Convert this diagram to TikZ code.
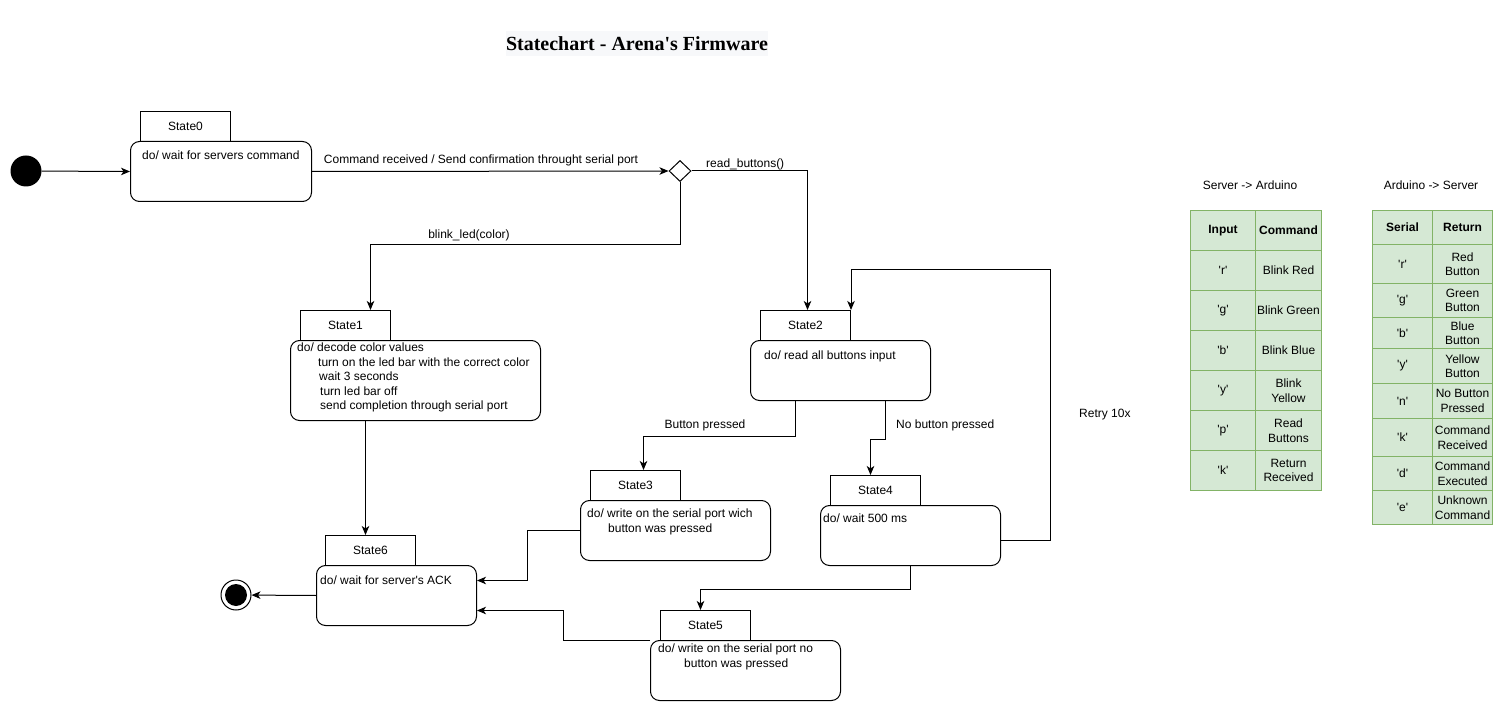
\documentclass[tikz,border=0pt]{standalone}
\usepackage{fontspec}
\newfontfamily\dio{Liberation Sans}
\newfontfamily\ttl{Liberation Serif}
\usetikzlibrary{shapes.geometric,arrows.meta}
\definecolor{cellfill}{HTML}{D5E8D4}
\definecolor{celldraw}{HTML}{82B366}
\definecolor{titlebg}{HTML}{F7F8FA}
\tikzset{
  txt/.style={font=\dio\fontsize{12}{14.5}\selectfont, inner sep=0pt, text=black},
  blk/.style={txt, align=left, anchor=north west},
  tabbox/.style={draw, line width=1pt, minimum width=90pt, minimum height=30pt, anchor=north west, txt},
  bodybox/.style={draw, line width=1pt, rounded corners=9pt, anchor=north west, inner sep=0pt},
  arr/.style={draw, line width=1pt, -{Stealth[length=9pt,width=7.5pt,inset=2.5pt]}},
  cell/.style={draw=celldraw, fill=cellfill, line width=1pt, anchor=north west, txt, align=center, inner sep=0pt},
}
\begin{document}
\begin{tikzpicture}[x=1pt,y=-1pt]
\useasboundingbox (0,0) rectangle (1502,711);

% title
\node[fill=titlebg, minimum width=261pt, minimum height=25pt, inner sep=0pt,
      font=\ttl\bfseries\fontsize{20}{22}\selectfont] (title) at (637,44) {Statechart - Arena's Firmware};

% initial / final
\node[circle, fill=black, minimum size=31pt, inner sep=0pt] (init) at (26,171) {};
\node[circle, draw, line width=1pt, fill=white, minimum size=30pt, inner sep=0pt] (final) at (236,595) {};
\node[circle, fill=black, minimum size=22pt, inner sep=0pt] (finaldot) at (final.center) {};

% State0
\node[tabbox] (s0t) at (140,111) {State0};
\node[bodybox, minimum width=181pt, minimum height=60pt] (s0b) at (130,141) {};
\node[blk] (s0x) at (142,151) {do/ wait for servers command};

% decision
\node[diamond, draw, line width=1pt, fill=white, minimum width=22pt, minimum height=21pt, inner sep=0pt] (dec) at (680,171) {};

% State1
\node[tabbox] (s1t) at (300,310) {State1};
\node[bodybox, minimum width=250pt, minimum height=80pt] (s1b) at (290,340) {};
\node[blk] (s1x) at (297,343) {do/ decode color values\\
\hspace*{21pt}turn on the led bar with the correct color\\
\hspace*{22pt}wait 3 seconds\\
\hspace*{23pt}turn led bar off\\
\hspace*{23pt}send completion through serial port};

% State2
\node[tabbox] (s2t) at (760,310) {State2};
\node[bodybox, minimum width=180pt, minimum height=60pt] (s2b) at (750,340) {};
\node[blk] (s2x) at (764,351) {do/ read all buttons input};

% State3
\node[tabbox] (s3t) at (590,470) {State3};
\node[bodybox, minimum width=190pt, minimum height=60pt] (s3b) at (580,500) {};
\node[blk] (s3x) at (587,509) {do/ write on the serial port wich\\\hspace*{21pt}button was pressed};

% State4
\node[tabbox] (s4t) at (830,475) {State4};
\node[bodybox, minimum width=180pt, minimum height=60pt] (s4b) at (820,505) {};
\node[blk] (s4x) at (823,514) {do/ wait 500 ms};

% State5
\node[tabbox] (s5t) at (660,610) {State5};
\node[bodybox, minimum width=190pt, minimum height=60pt] (s5b) at (650,640) {};
\node[blk] (s5x) at (658,644) {do/ write on the serial port no\\\hspace*{26pt}button was pressed};

% State6
\node[tabbox] (s6t) at (325,535) {State6};
\node[bodybox, minimum width=160pt, minimum height=60pt] (s6b) at (316,565) {};
\node[blk] (s6x) at (320,576) {do/ wait for server's ACK};

% connectors
\draw[arr] (init) -- (s0b.west);
\draw[arr] (s0b.east) -- (dec.west);
\node[txt] (l0) at (481,160) {Command received / Send confirmation throught serial port};

\draw[arr] (dec.east) -| ([xshift=2pt]s2t.north);
\node[txt, anchor=west] (l1) at (706,164) {read\_buttons()};

\draw[arr] (dec.south) -- (dec.south |- 0,245) -| ([xshift=25pt]s1t.north);
\node[txt] (l2) at (469,235) {blink\_led(color)};

\draw[arr] ([xshift=-50pt]s1b.south) -- ([xshift=-5pt]s6t.north);
\draw[arr] (s6b.west) -- (final);

\draw[arr] ([xshift=-45pt]s2b.south) -- ++(0,35) -| ([xshift=8pt]s3t.north);
\node[txt] (l3) at (705,425) {Button pressed};

\draw[arr] ([xshift=45pt]s2b.south) -- ++(0,38) -| ([xshift=-5pt]s4t.north);
\node[txt, anchor=west] (l4) at (896,425) {No button pressed};

\coordinate (r1) at (1050,270);
\draw[arr] ([yshift=-5pt]s4b.east) -| (r1) -| (s2t.north east);
\node[txt, anchor=west] (l5) at (1079,415) {Retry 10x};

\draw[arr] (s4b.south) -- ++(0,23) -| ([xshift=-5pt]s5t.north);
\draw[arr] (s3b.west) -- ++(-53,0) |- ([yshift=15pt]s6b.east);
\draw[arr] (s5b.north west) -- ++(-87,0) |- ([yshift=-15pt]s6b.east);

% tables
\node[txt] (h1) at (1250,185) {Server -> Arduino};
\node[txt] (h2) at (1431,185) {Arduino -> Server};

\node[cell, minimum width=65pt, minimum height=40pt, font=\dio\bfseries\fontsize{12}{14.5}\selectfont] (a0) at (1190,210) {Input};
\node[cell, minimum width=66pt, minimum height=40pt, font=\dio\bfseries\fontsize{12}{14.5}\selectfont] (b0) at (1255,210) {Command};
\node[cell, minimum width=65pt, minimum height=40pt] (a1) at (1190,250) {'r'};
\node[cell, minimum width=66pt, minimum height=40pt] (b1) at (1255,250) {Blink Red};
\node[cell, minimum width=65pt, minimum height=40pt] (a2) at (1190,290) {'g'};
\node[cell, minimum width=66pt, minimum height=40pt] (b2) at (1255,290) {Blink Green};
\node[cell, minimum width=65pt, minimum height=40pt] (a3) at (1190,330) {'b'};
\node[cell, minimum width=66pt, minimum height=40pt] (b3) at (1255,330) {Blink Blue};
\node[cell, minimum width=65pt, minimum height=40pt] (a4) at (1190,370) {'y'};
\node[cell, minimum width=66pt, minimum height=40pt] (b4) at (1255,370) {Blink\\Yellow};
\node[cell, minimum width=65pt, minimum height=40pt] (a5) at (1190,410) {'p'};
\node[cell, minimum width=66pt, minimum height=40pt] (b5) at (1255,410) {Read\\Buttons};
\node[cell, minimum width=65pt, minimum height=40pt] (a6) at (1190,450) {'k'};
\node[cell, minimum width=66pt, minimum height=40pt] (b6) at (1255,450) {Return\\Received};

\node[cell, minimum width=60pt, minimum height=34pt, font=\dio\bfseries\fontsize{12}{14.5}\selectfont] (c0) at (1372,210) {Serial};
\node[cell, minimum width=60pt, minimum height=34pt, font=\dio\bfseries\fontsize{12}{14.5}\selectfont] (d0) at (1432,210) {Return};
\node[cell, minimum width=60pt, minimum height=39pt] (c1) at (1372,244) {'r'};
\node[cell, minimum width=60pt, minimum height=39pt] (d1) at (1432,244) {Red\\Button};
\node[cell, minimum width=60pt, minimum height=34pt] (c2) at (1372,283) {'g'};
\node[cell, minimum width=60pt, minimum height=34pt] (d2) at (1432,283) {Green\\Button};
\node[cell, minimum width=60pt, minimum height=31pt] (c3) at (1372,317) {'b'};
\node[cell, minimum width=60pt, minimum height=31pt] (d3) at (1432,317) {Blue\\Button};
\node[cell, minimum width=60pt, minimum height=35pt] (c4) at (1372,348) {'y'};
\node[cell, minimum width=60pt, minimum height=35pt] (d4) at (1432,348) {Yellow\\Button};
\node[cell, minimum width=60pt, minimum height=35pt] (c5) at (1372,383) {'n'};
\node[cell, minimum width=60pt, minimum height=35pt] (d5) at (1432,383) {No Button\\Pressed};
\node[cell, minimum width=60pt, minimum height=38pt] (c6) at (1372,418) {'k'};
\node[cell, minimum width=60pt, minimum height=38pt] (d6) at (1432,418) {Command\\Received};
\node[cell, minimum width=60pt, minimum height=34pt] (c7) at (1372,456) {'d'};
\node[cell, minimum width=60pt, minimum height=34pt] (d7) at (1432,456) {Command\\Executed};
\node[cell, minimum width=60pt, minimum height=34pt] (c8) at (1372,490) {'e'};
\node[cell, minimum width=60pt, minimum height=34pt] (d8) at (1432,490) {Unknown\\Command};
\end{tikzpicture}
\end{document}
